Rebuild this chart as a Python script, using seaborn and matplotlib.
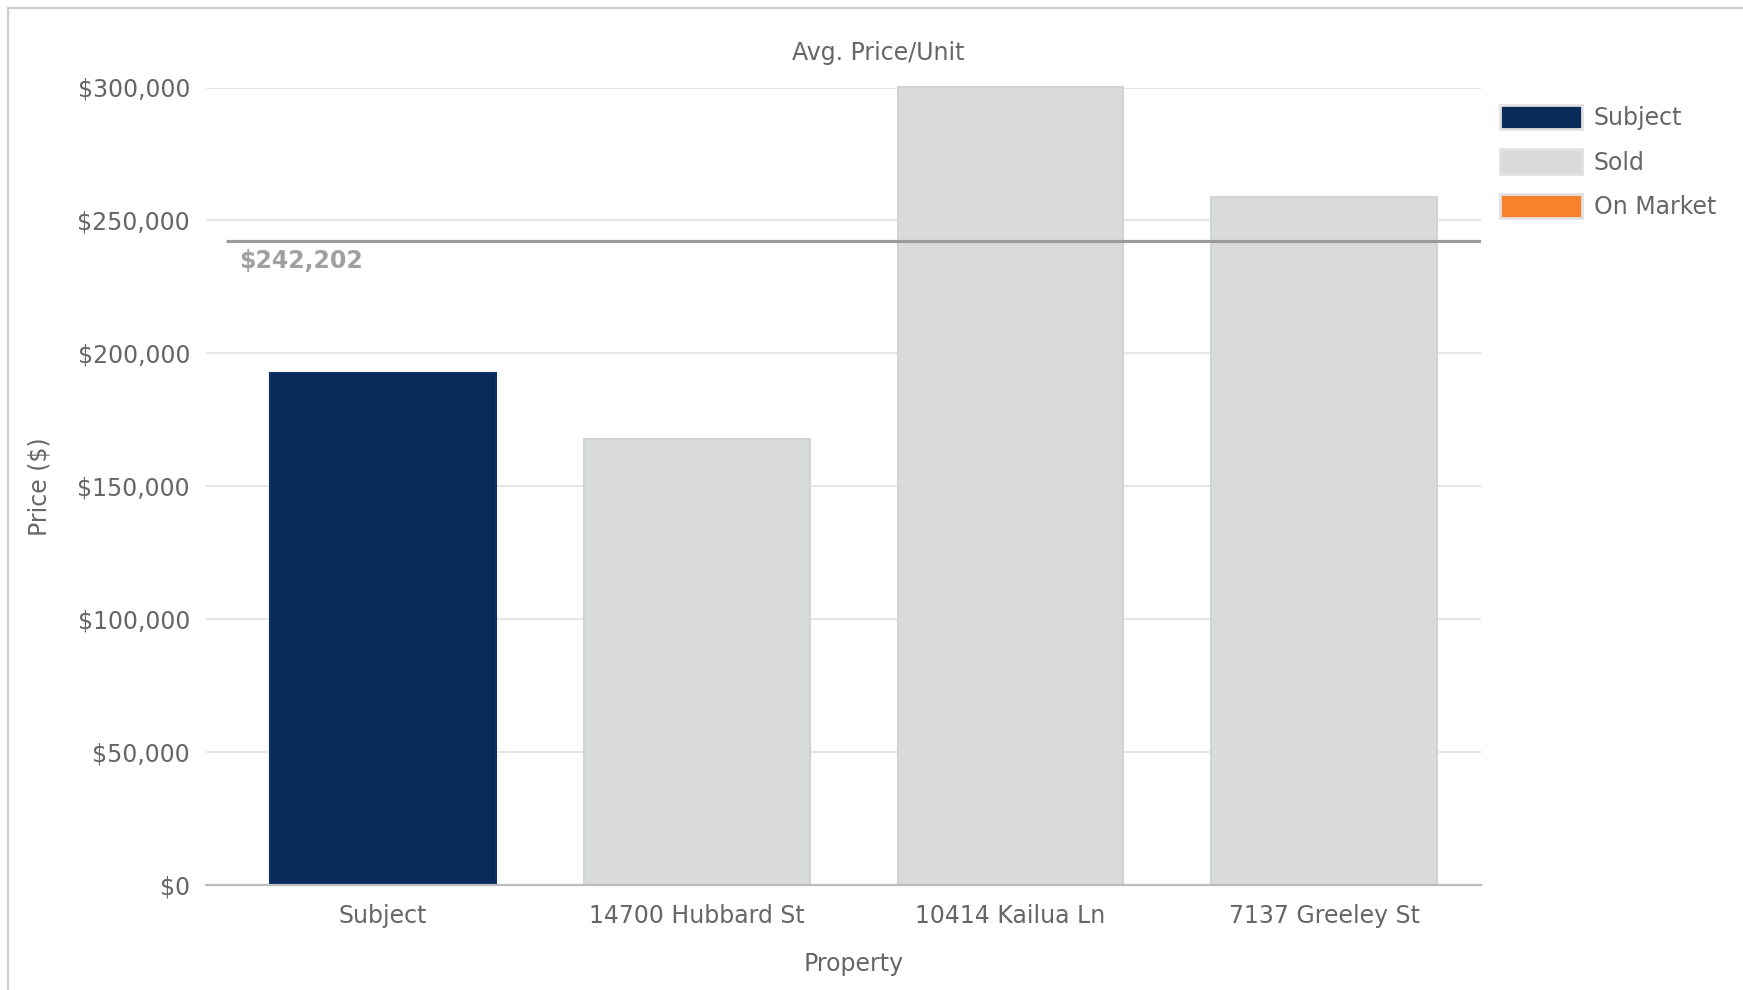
import matplotlib
matplotlib.use("Agg")
import matplotlib.pyplot as plt
from matplotlib.lines import Line2D
from matplotlib.patches import Patch
from matplotlib.ticker import StrMethodFormatter
import pandas as pd
import seaborn as sns

# --- data -------------------------------------------------------------
properties = ["Subject", "14700 Hubbard St", "10414 Kailua Ln", "7137 Greeley St"]
status = ["Subject", "Sold", "Sold", "Sold"]
price_per_unit = [192700, 167800, 300150, 258656]
sold_average = 242202

legend_labels = ["Subject", "Sold", "On Market"]
status_colors = {"Subject": "#072a5b", "Sold": "#d9dbdb", "On Market": "#f8822b"}
status_edges = {"Subject": "#0d3266", "Sold": "#d2d4d4", "On Market": "#f8822b"}

df = pd.DataFrame({"Property": properties, "Status": status, "Price": price_per_unit})

# --- style ------------------------------------------------------------
sns.set_style("white")
plt.rcParams["font.family"] = ["DejaVu Sans"]
TEXT = "#666666"
FS = 17

W, H = 1743, 990
fig = plt.figure(figsize=(W / 100, H / 100), dpi=100)
ax = fig.add_axes([206 / W, 1 - 885 / H, (1481 - 206) / W, (885 - 87.5) / H])

sns.barplot(
    data=df, x="Property", y="Price", hue="Status", order=properties,
    palette=status_colors, dodge=False, width=0.72, legend=False, ax=ax,
    saturation=1,
)
for bar, st in zip(ax.patches, status):
    bar.set_edgecolor(status_edges[st])
    bar.set_linewidth(1.5)
    bar.set_clip_on(False)

ax.set_ylim(0, 300000)
ax.set_xlim(-0.565, 3.5)
ax.yaxis.set_major_formatter(StrMethodFormatter("${x:,.0f}"))
ax.set_yticks(range(0, 300001, 50000))

ax.set_axisbelow(True)
ax.yaxis.grid(True, color="#e6e6e6", linewidth=1.5)
ax.xaxis.grid(False)
for side in ("top", "right", "left"):
    ax.spines[side].set_visible(False)
ax.spines["bottom"].set_color("#bdbdbd")
ax.spines["bottom"].set_linewidth(1.6)
ax.spines["bottom"].set_zorder(5)

ax.tick_params(axis="y", length=0, pad=11.5, labelsize=FS, labelcolor=TEXT)
ax.tick_params(axis="x", length=0, pad=13.5, labelsize=FS, labelcolor=TEXT)

ax.set_xlabel("Property", fontsize=FS, color=TEXT)
ax.xaxis.set_label_coords((853.7 - 206) / (1481 - 206), (885 - 964.5) / 797.5)
ax.xaxis.label.set_va("center")
ax.set_ylabel("Price ($)", fontsize=FS, color=TEXT)
ax.yaxis.set_label_coords((40 - 206) / (1481 - 206), 0.5)
ax.yaxis.label.set_va("center")

# average of sold comparables
ax.plot([-0.5, 3.5], [sold_average, sold_average], color="#9b9b9b",
        linewidth=2.3, zorder=6, solid_capstyle="butt")
ax.annotate(f"${sold_average:,.0f}", xy=(-0.5, sold_average),
            xytext=(12.5, -20), textcoords="offset pixels",
            ha="left", va="center", fontsize=FS, fontweight="bold",
            color="#a0a0a0", zorder=7)

fig.text(878 / W, 1 - 53 / H, "Avg. Price/Unit", ha="center", va="center",
         fontsize=FS, color=TEXT)

handles = [Patch(facecolor=status_colors[k], edgecolor="#e2e2e2", linewidth=2)
           for k in legend_labels]
leg = ax.legend(handles, legend_labels, loc="upper left",
                bbox_to_anchor=(1500 / W, 1 - 105 / H), bbox_transform=fig.transFigure,
                frameon=False, fontsize=FS, handlelength=3.47, handleheight=1.2,
                handletextpad=0.5, labelspacing=0.82, borderpad=0, borderaxespad=0)
for t in leg.get_texts():
    t.set_color(TEXT)

# outer frame
fig.add_artist(Line2D([8 / W, 8 / W], [0, 1 - 8 / H], transform=fig.transFigure,
                      color="#cccccc", linewidth=1.6))
fig.add_artist(Line2D([8 / W, 1], [1 - 8 / H, 1 - 8 / H], transform=fig.transFigure,
                      color="#cccccc", linewidth=1.6))

fig.savefig("out.png", dpi=100, facecolor="white")
